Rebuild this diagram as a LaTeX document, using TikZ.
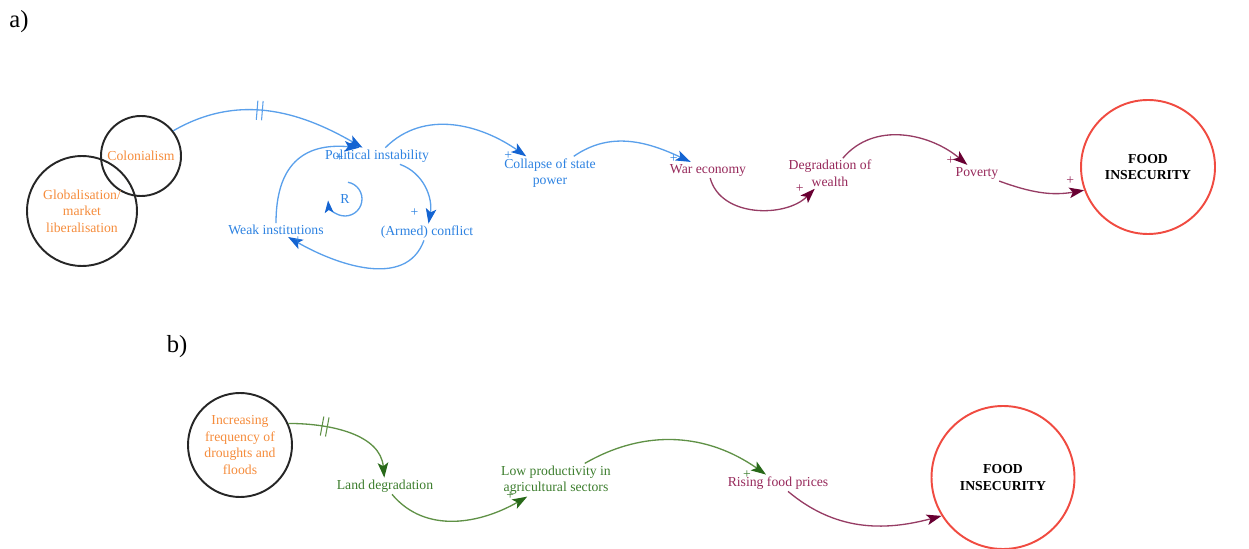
\documentclass[tikz,border=0pt]{standalone}
\usepackage{fontspec}
\setmainfont{Liberation Serif}
\usetikzlibrary{arrows.meta,decorations.markings}

\definecolor{blueline}{RGB}{90,160,235}
\definecolor{bluehead}{RGB}{20,100,210}
\definecolor{bluetext}{RGB}{45,130,225}
\definecolor{maroonline}{RGB}{150,60,100}
\definecolor{maroonhead}{RGB}{105,0,50}
\definecolor{maroontext}{RGB}{150,40,90}
\definecolor{greenline}{RGB}{95,145,70}
\definecolor{greenhead}{RGB}{40,105,25}
\definecolor{greentext}{RGB}{60,125,45}
\definecolor{orangetext}{RGB}{245,140,60}
\definecolor{redring}{RGB}{240,75,65}
\newcommand{\cldsize}{\fontsize{7.8}{9.4}\selectfont}

\begin{document}
\begin{tikzpicture}[
    txt/.style={font=\cldsize, align=center, inner sep=1pt},
    ring/.style={circle, draw=black!85, line width=1.1pt, txt, text=orangetext},
    foodring/.style={circle, draw=redring, line width=1.1pt, txt, font=\cldsize\bfseries},
    plus/.style={font=\cldsize, inner sep=0pt},
    bluelink/.style={draw=blueline, line width=0.75pt, -{Stealth[length=8.5pt,width=6pt,inset=2pt,color=bluehead]}},
    maroonlink/.style={draw=maroonline, line width=0.75pt, -{Stealth[length=8.5pt,width=6pt,inset=2pt,color=maroonhead]}},
    greenlink/.style={draw=greenline, line width=0.75pt, -{Stealth[length=8.5pt,width=6pt,inset=2pt,color=greenhead]}},
    delay/.style={postaction={decorate, decoration={markings,
        mark=at position #1 with {\draw[-, line width=0.6pt] (-1.5pt,-5.5pt) -- (-1.5pt,5.5pt) (1.5pt,-5.5pt) -- (1.5pt,5.5pt);}}}}
]
    \useasboundingbox (0,0) rectangle (24.98,-10.98);

    % a) の部分
    \node[font=\fontsize{14}{16}\selectfont] (labelA) at (0.38,-0.44) {a)};
    \node[ring, minimum size=1.6cm] (colon) at (2.82,-3.12) {Colonialism};
    \node[ring, minimum size=2.2cm] (glob) at (1.64,-4.22) {Globalisation/\\market\\liberalisation};

    \node[txt, text=bluetext] (pol) at (7.54,-3.12) {Political instability};
    \node[txt, text=bluetext] (weak) at (5.52,-4.60) {Weak institutions};
    \node[txt, text=bluetext] (armed) at (8.54,-4.64) {(Armed) conflict};
    \node[txt, text=bluetext] (loopR) at (6.9,-3.98) {R};
    \node[txt, text=bluetext] (collapse) at (11.0,-3.46) {Collapse of state\\power};
    \node[txt, text=maroontext] (war) at (14.16,-3.40) {War economy};
    \node[txt, text=maroontext] (degr) at (16.6,-3.47) {Degradation of\\wealth};
    \node[txt, text=maroontext] (pov) at (19.54,-3.46) {Poverty};
    \node[foodring, minimum size=2.68cm] (foodA) at (22.96,-3.34) {FOOD\\INSECURITY};

    \draw[bluelink, delay=0.45] (colon.38) to[out=30, in=150] (pol);
    \draw[bluelink] (pol) to[out=45, in=145] node[plus, text=bluetext, pos=1, xshift=-0.36cm, yshift=0.02cm] {+} (collapse);
    \draw[bluelink] (pol) to[out=-20, in=80] node[plus, text=bluetext, pos=1, xshift=-0.28cm, yshift=0.22cm] {+} (armed);
    \draw[bluelink] (armed) to[out=-110, in=-30] node[plus, text=bluetext, pos=1, xshift=0.2cm, yshift=-0.08cm] {+} (weak);
    \draw[bluelink, looseness=1.3] (weak.north) to[out=90, in=175] node[plus, text=bluetext, pos=1, xshift=-0.4cm, yshift=-0.2cm] {+} ([xshift=-3.5mm]pol.north);
    \draw[blueline, line width=0.75pt, -{Stealth[length=7pt,width=5pt,inset=1.6pt,color=bluehead]}]
        ([shift={(80:0.34)}]loopR.center) arc[start angle=80, end angle=-175, radius=0.34cm];
    \draw[bluelink] (collapse) to[out=35, in=155] node[plus, text=bluetext, pos=1, xshift=-0.34cm, yshift=0.06cm] {+} (war);
    \draw[maroonlink] (war) to[out=-75, in=-135] node[plus, text=maroontext, pos=1, xshift=-0.3cm, yshift=0cm] {+} (degr);
    \draw[maroonlink] (degr) to[out=50, in=140] node[plus, text=maroontext, pos=1, xshift=-0.34cm, yshift=0.08cm] {+} (pov);
    \draw[maroonlink] (pov) to[out=-20, in=190] node[plus, text=maroontext, pos=1, xshift=-0.28cm, yshift=0.2cm] {+} (foodA.200);

    % b) の部分
    \node[font=\fontsize{14}{16}\selectfont] (labelB) at (3.54,-6.94) {b)};
    \node[ring, minimum size=2.08cm] (droughts) at (4.8,-8.9) {Increasing\\frequency of\\droughts and\\floods};
    \node[txt, text=greentext] (land) at (7.7,-9.72) {Land degradation};
    \node[txt, text=greentext] (lowprod) at (11.12,-9.6) {Low productivity in\\agricultural sectors};
    \node[txt, text=maroontext] (rise) at (15.56,-9.66) {Rising food prices};
    \node[foodring, minimum size=2.86cm] (foodB) at (20.06,-9.55) {FOOD\\INSECURITY};

    \draw[greenlink, delay=0.3] (droughts.24) to[out=0, in=95] (land);
    \draw[greenlink] (land) to[out=-50, in=-150] node[plus, text=greentext, pos=1, xshift=-0.34cm, yshift=0.02cm] {+} (lowprod);
    \draw[greenlink] (lowprod) to[out=30, in=145] node[plus, text=greentext, pos=1, xshift=-0.38cm, yshift=0cm] {+} (rise);
    \draw[maroonlink] (rise) to[out=-40, in=195] (foodB.212);

\end{tikzpicture}
\end{document}
